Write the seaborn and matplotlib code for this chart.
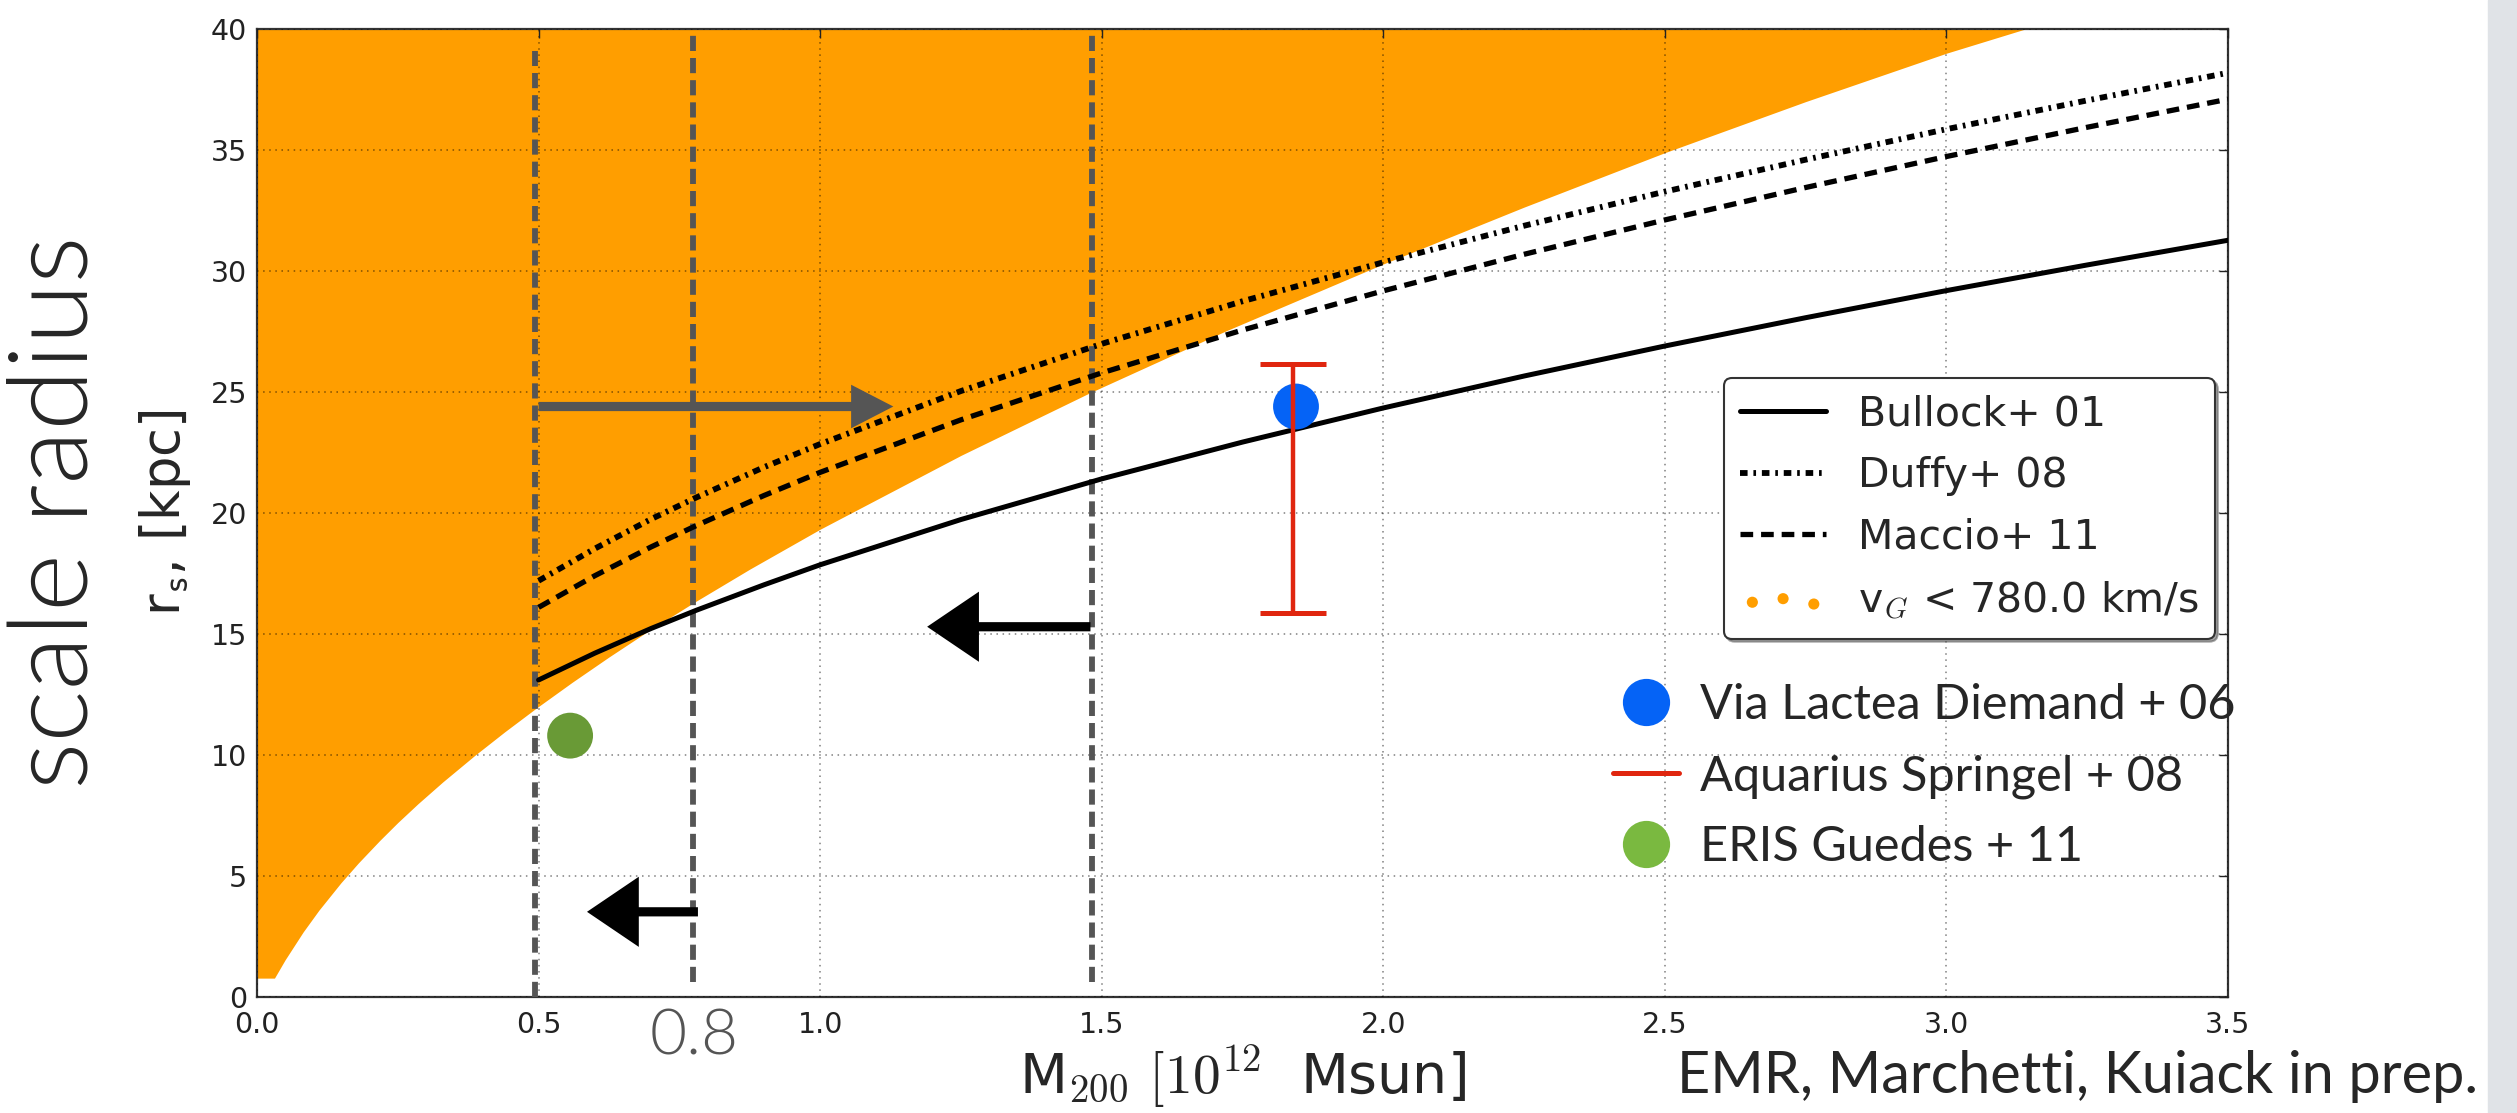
import matplotlib
matplotlib.use("Agg")
import matplotlib.pyplot as plt
from matplotlib.lines import Line2D
from matplotlib.patches import Rectangle
import seaborn as sns

# lower edge of the region allowed by v_G < 780 km/s
edge_mass = [0.0, 0.031, 0.05, 0.082, 0.11, 0.149, 0.18, 0.218, 0.25, 0.286, 0.33,
             0.387, 0.44, 0.496, 0.56, 0.625, 0.694, 0.775, 0.875, 1.0, 1.25, 1.48,
             1.72, 2.0, 2.25, 2.5, 2.75, 3.0, 3.14]
edge_rs = [0.78, 0.78, 1.54, 2.69, 3.59, 4.72, 5.54, 6.47, 7.21, 7.99, 8.89,
           9.99, 10.96, 11.94, 13.01, 14.05, 15.11, 16.29, 17.68, 19.33, 22.38, 24.98,
           27.52, 30.29, 32.64, 34.89, 37.0, 39.0, 40.0]

# concentration-mass relations
curve_mass = [0.5, 0.6, 0.7, 0.78, 0.9, 1.0, 1.25, 1.5, 1.75, 2.0, 2.25, 2.5,
              2.75, 3.0, 3.25, 3.5]
bullock_rs = [13.1, 14.21, 15.23, 15.98, 17.03, 17.86, 19.73, 21.41, 22.93, 24.34,
              25.66, 26.9, 28.07, 29.19, 30.25, 31.27]
duffy_rs = [17.2, 18.53, 19.75, 20.64, 21.89, 22.85, 25.04, 26.99, 28.75, 30.36,
            31.87, 33.28, 34.6, 35.86, 37.05, 38.19]
maccio_rs = [16.1, 17.41, 18.6, 19.48, 20.72, 21.68, 23.85, 25.79, 27.56, 29.18,
             30.69, 32.11, 33.45, 34.73, 35.94, 37.1]

# simulations
vialactea_mass, vialactea_rs = [1.845], [24.4]
aquarius_mass, aquarius_lo, aquarius_hi = 1.84, 15.85, 26.15
eris_mass, eris_rs = [0.556], [10.8]

# mass cuts (vertical dashed) and their extent
cut_mass = [0.493, 0.775, 1.482]
cut_lo = [0.0, 0.6, 0.6]
cut_hi = [39.1, 39.8, 39.8]

# arrows: tail mass, tip mass, r_s
arrow_tail = [0.5, 1.48, 0.783]
arrow_tip = [1.13, 1.19, 0.586]
arrow_rs = [24.4, 15.3, 3.52]
arrow_color = ["#555555", "black", "black"]
arrow_head_w = [1.8, 2.9, 2.9]
arrow_head_l = [0.075, 0.092, 0.092]

xticks = [0.0, 0.5, 1.0, 1.5, 2.0, 2.5, 3.0, 3.5]
xtick_labels = ["0.0", "0.5", "1.0", "1.5", "2.0", "2.5", "3.0", "3.5"]
yticks = [0, 5, 10, 15, 20, 25, 30, 35, 40]

ORANGE = "#ff9e00"
BLUE = "#0563f6"
RED = "#e0260f"
GREEN = "#699a36"
GREEN_LEG = "#7ab940"
DUFFY_LS = (0, (1.3, 1.0, 0.45, 1.0))
MACCIO_LS = (0, (2.4, 1.5))

sns.set_theme(style="white")
plt.rcParams["font.family"] = ["DejaVu Sans"]
plt.rcParams["mathtext.fontset"] = "cm"

fig = plt.figure(figsize=(25.17, 11.13), dpi=100)
ax = fig.add_axes([257 / 2517, 1 - 997 / 1113, (2228 - 257) / 2517, (997 - 29) / 1113])

ax.fill_between(edge_mass, edge_rs, 40, color=ORANGE, lw=0, zorder=1)

sns.lineplot(x=curve_mass, y=bullock_rs, ax=ax, color="black", linewidth=3.6, zorder=4)
sns.lineplot(x=curve_mass, y=duffy_rs, ax=ax, color="black", linewidth=4.2,
             linestyle=DUFFY_LS, zorder=4)
sns.lineplot(x=curve_mass, y=maccio_rs, ax=ax, color="black", linewidth=3.8,
             linestyle=MACCIO_LS, zorder=4)

for m, lo, hi in zip(cut_mass, cut_lo, cut_hi):
    ax.plot([m, m], [lo, hi], color="#555555", lw=4.2, linestyle=(0, (2.6, 1.2)), zorder=3)

for x0, x1, y, c, hw, hl in zip(arrow_tail, arrow_tip, arrow_rs, arrow_color,
                                arrow_head_w, arrow_head_l):
    ax.arrow(x0, y, x1 - x0, 0, width=0.38, head_width=hw, head_length=hl,
             length_includes_head=True, fc=c, ec="none", zorder=5)

sns.scatterplot(x=vialactea_mass, y=vialactea_rs, ax=ax, s=1090, color=BLUE,
                edgecolor="none", zorder=6)
sns.scatterplot(x=eris_mass, y=eris_rs, ax=ax, s=1090, color=GREEN,
                edgecolor="none", zorder=6)
mid = (aquarius_lo + aquarius_hi) / 2
ax.errorbar([aquarius_mass], [mid], yerr=[[mid - aquarius_lo], [aquarius_hi - mid]],
            fmt="none", ecolor=RED, elinewidth=3.2, capsize=24, capthick=3.6, zorder=7)

ax.set_xlim(0, 3.5)
ax.set_ylim(0, 40)
ax.set_xticks(xticks)
ax.set_xticklabels(xtick_labels)
ax.set_yticks(yticks)
ax.set_axisbelow(False)
ax.grid(True, color="black", alpha=0.5, lw=1.1, linestyle=(0, (1, 3)))
ax.tick_params(direction="in", length=6.5, width=1, top=True, right=True,
               labelsize=20.5, colors="#222222")
ax.tick_params(axis="x", pad=10)
ax.tick_params(axis="y", pad=7)
for s in ax.spines.values():
    s.set_linewidth(1.6)
    s.set_color("#333333")

ax.set_xlabel(r"M$_{\mathsf{200}}$ $[10^{12}$  Msun]", fontsize=40)
ax.set_ylabel(r"r$_{\mathsf{s}}$, [kpc]", fontsize=38)
ax.xaxis.set_label_coords(0.5, -0.048)
ax.yaxis.set_label_coords(-0.0325, 0.5)

# model legend
model_handles = [
    Line2D([], [], color="black", lw=3.6),
    Line2D([], [], color="black", lw=4.2, linestyle=DUFFY_LS),
    Line2D([], [], color="black", lw=3.8, linestyle=MACCIO_LS),
    ax.scatter([], [], s=64, color=ORANGE, edgecolor="none"),
]
model_labels = ["Bullock+ 01", "Duffy+ 08", "Maccio+ 11", r"v$_G$ < 780.0 km/s"]
leg1 = ax.legend(model_handles, model_labels, loc="upper right",
                 bbox_to_anchor=(0.9934, 0.6395), borderaxespad=0, fontsize=29.5,
                 handlelength=2.1, handletextpad=0.77, labelspacing=0.53,
                 borderpad=0.4, scatterpoints=3, scatteryoffsets=[0.375, 0.5, 0.3125],
                 fancybox=True, shadow=True, framealpha=1, edgecolor="#333333")
leg1.get_frame().set_linewidth(1.5)
leg1.set_zorder(10)
ax.add_artist(leg1)

# simulations legend
sim_handles = [
    Line2D([], [], ls="none", marker="o", ms=34, color=BLUE, mec="none"),
    Line2D([], [], color=RED, lw=3.6),
    Line2D([], [], ls="none", marker="o", ms=34, color=GREEN_LEG, mec="none"),
]
sim_labels = ["Via Lactea Diemand + 06", "Aquarius Springel + 08", "ERIS Guedes + 11"]
leg2 = ax.legend(sim_handles, sim_labels, loc="upper left",
                 bbox_to_anchor=(0.688, 0.324), borderaxespad=0, borderpad=0,
                 frameon=False, handlelength=1.35, handletextpad=0.43,
                 labelspacing=0.55, prop={"family": "Lato", "size": 35})
leg2.set_zorder(10)

fig.text(57 / 2517, 1 - 512 / 1113, "scale radius", rotation=90, ha="center",
         va="center", fontsize=80, family="Lato", weight=300)
ax.text(0.776, -0.041, "0.8", transform=ax.get_xaxis_transform(), ha="center",
        va="center", fontsize=46, family="Lato", weight=300, color="#555555")
fig.text(2478 / 2517, 1 - 1093 / 1113, "EMR, Marchetti, Kuiack in prep.", ha="right",
         va="baseline", fontsize=41.5, family="Lato")

fig.patches.append(Rectangle((2488 / 2517, 0), 29 / 2517, 1, transform=fig.transFigure,
                             color="#e0e3e7", zorder=0))

fig.savefig("out.png", dpi=100)
